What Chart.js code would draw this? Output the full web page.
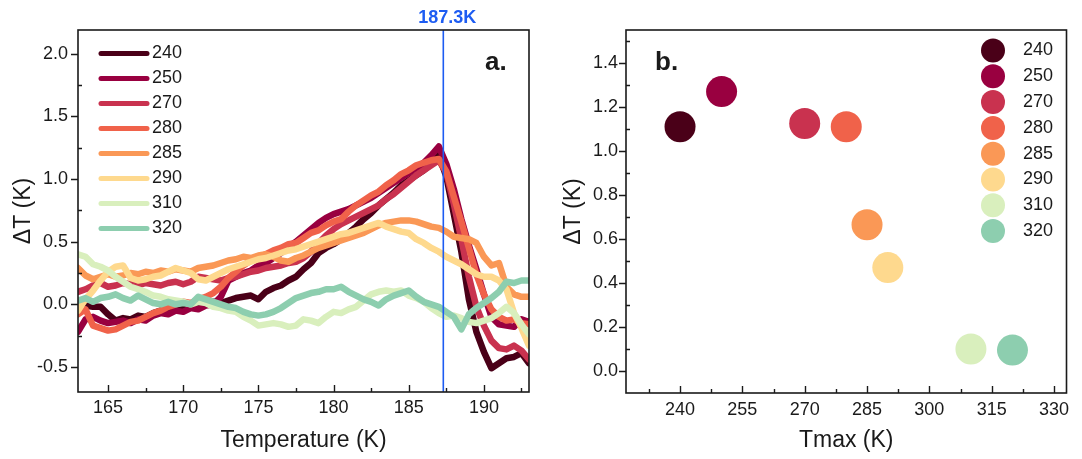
<!DOCTYPE html>
<html lang="en">
<head>
<meta charset="utf-8">
<title>ΔT vs Temperature / Tmax</title>
<script src="https://cdn.jsdelivr.net/npm/chart.js@4.4.1/dist/chart.umd.min.js"></script>
<style>
  html, body { margin: 0; padding: 0; background: #fff; }
  .wrap { position: relative; width: 1082px; height: 459px; }
  .panel { position: absolute; top: 0; width: 541px; height: 459px; }
  #panelA { left: 0; }
  #panelB { left: 541px; }
</style>
</head>
<body>
<div class="wrap">
  <div class="panel" id="panelA"><canvas id="chartA" width="541" height="459"></canvas></div>
  <div class="panel" id="panelB"><canvas id="chartB" width="541" height="459"></canvas></div>
</div>
<script>
// runs, labelled by Tmax (K)
const runLabels = ['240', '250', '270', '280', '285', '290', '310', '320'];
const runColors = ['#4a0018', '#990040', '#c9324f', '#f0624a', '#fa9856', '#fed98e', '#d9efbd', '#8dceaf'];

// temperature axis of the ΔT traces (K)
const temps = [163, 163.5, 164, 164.5, 165, 165.5, 166, 166.5, 167, 167.5,
  168, 168.5, 169, 169.5, 170, 170.5, 171, 171.5, 172, 172.5,
  173, 173.5, 174, 174.5, 175, 175.5, 176, 176.5, 177, 177.5,
  178, 178.5, 179, 179.5, 180, 180.5, 181, 181.5, 182, 182.5,
  183, 183.5, 184, 184.5, 185, 185.5, 186, 186.5, 187, 187.5,
  188, 188.5, 189, 189.5, 190, 190.5, 191, 191.5, 192, 192.5, 193];

// ΔT traces (K)
const dT240 = [-0.06, -0.01, -0.02, -0.02, -0.08, -0.13, -0.11, -0.12, -0.09, -0.10,
  -0.07, -0.05, -0.06, -0.03, -0.04, -0.01, -0.02, 0.01, 0.02, 0.01,
  0.03, 0.05, 0.06, 0.07, 0.04, 0.10, 0.13, 0.15, 0.19, 0.22,
  0.28, 0.33, 0.41, 0.45, 0.48, 0.52, 0.57, 0.62, 0.68, 0.73,
  0.79, 0.84, 0.89, 0.95, 0.99, 1.03, 1.07, 1.12, 1.19, 1.02,
  0.72, 0.42, 0.04, -0.22, -0.38, -0.51, -0.47, -0.43, -0.42, -0.39, -0.47];
const dT250 = [-0.22, -0.12, -0.10, -0.13, -0.15, -0.14, -0.13, -0.15, -0.12, -0.13,
  -0.09, -0.07, -0.08, -0.05, -0.06, -0.03, -0.04, -0.01, 0.00, 0.06,
  0.19, 0.22, 0.25, 0.27, 0.31, 0.33, 0.37, 0.41, 0.46, 0.50,
  0.55, 0.60, 0.65, 0.69, 0.72, 0.74, 0.76, 0.79, 0.82, 0.85,
  0.89, 0.93, 0.97, 1.01, 1.05, 1.09, 1.13, 1.19, 1.26, 1.12,
  0.92, 0.68, 0.47, 0.28, 0.08, -0.10, -0.16, -0.17, -0.18, -0.12, -0.14];
const dT270 = [0.10, 0.12, 0.15, 0.17, 0.14, 0.15, 0.17, 0.16, 0.15, 0.17,
  0.16, 0.15, 0.17, 0.18, 0.16, 0.18, 0.22, 0.21, 0.20, 0.19,
  0.21, 0.22, 0.24, 0.26, 0.27, 0.29, 0.30, 0.31, 0.33, 0.34,
  0.37, 0.42, 0.49, 0.55, 0.60, 0.64, 0.67, 0.70, 0.73, 0.76,
  0.79, 0.84, 0.88, 0.93, 0.98, 1.03, 1.07, 1.11, 1.15, 1.05,
  0.80, 0.52, 0.22, -0.02, -0.17, -0.29, -0.35, -0.36, -0.33, -0.37, -0.44];
const dT280 = [-0.08, -0.04, -0.17, -0.19, -0.21, -0.20, -0.17, -0.14, -0.13, -0.10,
  -0.07, -0.05, -0.02, 0.00, 0.02, 0.01, 0.04, 0.06, 0.09, 0.14,
  0.21, 0.26, 0.31, 0.35, 0.37, 0.40, 0.43, 0.45, 0.48, 0.49,
  0.53, 0.57, 0.59, 0.63, 0.66, 0.68, 0.74, 0.79, 0.83, 0.87,
  0.90, 0.95, 0.99, 1.04, 1.07, 1.11, 1.13, 1.15, 1.16, 1.06,
  0.86, 0.66, 0.45, 0.24, 0.08, -0.04, -0.10, -0.13, -0.12, -0.15, -0.16];
const dT285 = [0.29, 0.23, 0.20, 0.22, 0.24, 0.22, 0.23, 0.25, 0.24, 0.26,
  0.25, 0.27, 0.26, 0.28, 0.27, 0.26, 0.29, 0.30, 0.31, 0.33,
  0.35, 0.36, 0.38, 0.37, 0.39, 0.40, 0.38, 0.35, 0.34, 0.37,
  0.39, 0.42, 0.45, 0.47, 0.49, 0.51, 0.53, 0.55, 0.57, 0.60,
  0.63, 0.65, 0.66, 0.67, 0.67, 0.66, 0.64, 0.62, 0.61, 0.58,
  0.54, 0.53, 0.52, 0.49, 0.38, 0.31, 0.33, 0.14, 0.08, 0.06, 0.06];
const dT290 = [-0.05, 0.04, 0.11, 0.19, 0.26, 0.30, 0.31, 0.21, 0.19, 0.20,
  0.22, 0.23, 0.26, 0.29, 0.27, 0.25, 0.20, 0.19, 0.22, 0.25,
  0.28, 0.30, 0.32, 0.34, 0.36, 0.37, 0.39, 0.41, 0.43, 0.44,
  0.46, 0.48, 0.50, 0.52, 0.54, 0.56, 0.57, 0.59, 0.61, 0.63,
  0.65, 0.62, 0.60, 0.58, 0.57, 0.52, 0.49, 0.45, 0.42, 0.38,
  0.35, 0.32, 0.28, 0.24, 0.22, 0.22, 0.19, 0.12, -0.07, -0.19, -0.33];
const dT310 = [0.40, 0.38, 0.32, 0.30, 0.27, 0.22, 0.18, 0.14, 0.12, 0.10,
  0.07, 0.06, 0.04, 0.03, 0.02, 0.00, 0.02, 0.01, -0.02, -0.03,
  -0.05, -0.06, -0.10, -0.13, -0.17, -0.16, -0.15, -0.16, -0.18, -0.17,
  -0.12, -0.13, -0.15, -0.10, -0.06, -0.07, -0.04, -0.02, 0.03, 0.08,
  0.10, 0.11, 0.10, 0.11, 0.07, 0.05, 0.02, -0.03, -0.07, -0.10,
  -0.09, -0.11, -0.14, -0.15, -0.13, -0.11, -0.07, -0.02, -0.07, -0.16, -0.24];
const dT320 = [0.03, 0.05, 0.02, 0.05, 0.06, 0.08, 0.05, 0.03, 0.07, 0.04,
  0.01, 0.00, 0.02, 0.00, 0.01, 0.00, 0.06, 0.04, 0.02, 0.00,
  -0.02, -0.03, -0.06, -0.08, -0.09, -0.08, -0.06, -0.03, 0.01, 0.05,
  0.07, 0.09, 0.10, 0.12, 0.12, 0.14, 0.10, 0.07, 0.04, 0.02,
  -0.01, 0.04, 0.07, 0.09, 0.11, 0.06, 0.02, 0.00, -0.02, -0.06,
  -0.10, -0.20, -0.08, -0.03, 0.01, 0.05, 0.10, 0.18, 0.17, 0.19, 0.19];
const traces = [dT240, dT250, dT270, dT280, dT285, dT290, dT310, dT320];

// panel b: maximum ΔT for each Tmax
const tmax = [240, 250, 270, 280, 285, 290, 310, 320];
const peakDT = [1.11, 1.27, 1.125, 1.11, 0.665, 0.47, 0.10, 0.095];

// transition marker (K)
const markerTemp = 187.3;

// major tick values
const tempTicks = [165, 170, 175, 180, 185, 190];
const dTTicksA = [-0.5, 0.0, 0.5, 1.0, 1.5, 2.0];
const tmaxTicks = [240, 255, 270, 285, 300, 315, 330];
const dTTicksB = [0.0, 0.2, 0.4, 0.6, 0.8, 1.0, 1.2, 1.4];

const FONT = '"Liberation Sans", Arial, sans-serif';
const INK = '#1a1a1a';

function minorsOf(majors, min, max) {
  const step = majors[1] - majors[0];
  const out = [];
  for (let v = majors[0] - step / 2; v < max; v += step) {
    if (v > min) out.push(v);
  }
  return out;
}

// frame around the plot area plus Origin-style major/minor ticks
function frameAndTicks(xMajors, yMajors) {
  return {
    id: 'frameAndTicks',
    afterDraw(chart) {
      const {ctx, chartArea: a, scales: {x, y}} = chart;
      ctx.save();
      ctx.strokeStyle = INK;
      ctx.lineWidth = 1.6;
      ctx.strokeRect(a.left, a.top, a.right - a.left, a.bottom - a.top);
      ctx.lineWidth = 1.4;
      ctx.beginPath();
      for (const v of yMajors) {
        const py = Math.round(y.getPixelForValue(v)) + 0.5;
        ctx.moveTo(a.left - 7, py); ctx.lineTo(a.left, py);
      }
      for (const v of minorsOf(yMajors, y.min, y.max)) {
        const py = Math.round(y.getPixelForValue(v)) + 0.5;
        ctx.moveTo(a.left, py); ctx.lineTo(a.left + 4, py);
      }
      for (const v of xMajors) {
        const px = Math.round(x.getPixelForValue(v)) + 0.5;
        ctx.moveTo(px, a.bottom); ctx.lineTo(px, a.bottom - 7);
      }
      for (const v of minorsOf(xMajors, x.min, x.max)) {
        const px = Math.round(x.getPixelForValue(v)) + 0.5;
        ctx.moveTo(px, a.bottom); ctx.lineTo(px, a.bottom - 4);
      }
      ctx.stroke();
      ctx.restore();
    }
  };
}

function panelTag(text, px, py) {
  return {
    id: 'panelTag',
    afterDraw(chart) {
      const ctx = chart.ctx;
      ctx.save();
      ctx.fillStyle = INK;
      ctx.font = 'bold 26px ' + FONT;
      ctx.textBaseline = 'alphabetic';
      ctx.fillText(text, px, py);
      ctx.restore();
    }
  };
}

// vertical line at the transition temperature, with its label above the frame
const markerLine = {
  id: 'markerLine',
  afterDatasetsDraw(chart) {
    const {ctx, chartArea: a, scales: {x}} = chart;
    const px = x.getPixelForValue(markerTemp);
    ctx.save();
    ctx.strokeStyle = '#1d5cf2';
    ctx.lineWidth = 1.6;
    ctx.beginPath();
    ctx.moveTo(px, a.top);
    ctx.lineTo(px, a.bottom);
    ctx.stroke();
    ctx.fillStyle = '#1d5cf2';
    ctx.font = 'bold 18px ' + FONT;
    ctx.textAlign = 'center';
    ctx.textBaseline = 'middle';
    ctx.fillText(markerTemp.toFixed(1) + 'K', px + 4, 18);
    ctx.restore();
  }
};

// line-sample legend (panel a)
const lineLegend = {
  id: 'lineLegend',
  afterDraw(chart) {
    const ctx = chart.ctx;
    ctx.save();
    ctx.font = '18px ' + FONT;
    ctx.textBaseline = 'middle';
    runLabels.forEach((lab, i) => {
      const yy = 53.5 + i * 25;
      ctx.strokeStyle = runColors[i];
      ctx.lineWidth = 5;
      ctx.lineCap = 'round';
      ctx.beginPath();
      ctx.moveTo(101, yy);
      ctx.lineTo(147, yy);
      ctx.stroke();
      ctx.fillStyle = INK;
      ctx.fillText(lab, 152, yy);
    });
    ctx.restore();
  }
};

// marker legend (panel b)
const dotLegend = {
  id: 'dotLegend',
  afterDraw(chart) {
    const ctx = chart.ctx;
    ctx.save();
    ctx.font = '18px ' + FONT;
    ctx.textBaseline = 'middle';
    runLabels.forEach((lab, i) => {
      const yy = 50.5 + i * 25.8;
      ctx.fillStyle = runColors[i];
      ctx.beginPath();
      ctx.arc(452, yy, 12, 0, Math.PI * 2);
      ctx.fill();
      ctx.fillStyle = INK;
      ctx.fillText(lab, 482, yy);
    });
    ctx.restore();
  }
};

function axisTitle(text, pad) {
  return { display: true, text: text, color: INK, font: { family: FONT, size: 23 }, padding: pad };
}
function tickFont() {
  return { family: FONT, size: 18 };
}

// panel a: ΔT traces against temperature
new Chart(document.getElementById('chartA'), {
  type: 'line',
  data: {
    datasets: traces.map((arr, i) => ({
      label: runLabels[i],
      data: temps.map((t, k) => ({ x: t, y: arr[k] })),
      borderColor: runColors[i],
      borderWidth: 6.5,
      borderJoinStyle: 'round',
      borderCapStyle: 'round',
      pointRadius: 0,
      tension: 0,
      order: runLabels.length - i
    }))
  },
  options: {
    responsive: false,
    animation: false,
    events: [],
    layout: { padding: { left: 0, right: 12, top: 30, bottom: 0 } },
    plugins: { legend: { display: false }, tooltip: { enabled: false } },
    scales: {
      x: {
        type: 'linear', min: 163, max: 193,
        afterBuildTicks: s => { s.ticks = tempTicks.map(v => ({ value: v })); },
        afterFit: s => { s.height = 67; },
        grid: { display: false, drawTicks: false },
        border: { display: false },
        ticks: { color: INK, font: tickFont(), padding: 5, autoSkip: false, maxRotation: 0,
                 callback: v => String(v) },
        title: axisTitle('Temperature (K)', { bottom: 5 })
      },
      y: {
        type: 'linear', min: -0.7, max: 2.19,
        afterBuildTicks: s => { s.ticks = dTTicksA.map(v => ({ value: v })); },
        afterFit: s => { s.width = 78; },
        grid: { display: false, drawTicks: false },
        border: { display: false },
        ticks: { color: INK, font: tickFont(), padding: 10, autoSkip: false,
                 callback: v => v.toFixed(1) },
        title: axisTitle('ΔT (K)', { top: 10 })
      }
    }
  },
  plugins: [markerLine, frameAndTicks(tempTicks, dTTicksA), lineLegend, panelTag('a.', 485, 70)]
});

// panel b: peak ΔT against Tmax
new Chart(document.getElementById('chartB'), {
  type: 'scatter',
  data: {
    datasets: [{
      label: 'ΔT',
      data: tmax.map((t, i) => ({ x: t, y: peakDT[i] })),
      backgroundColor: runColors,
      borderWidth: 0,
      pointRadius: 15.5
    }]
  },
  options: {
    responsive: false,
    animation: false,
    events: [],
    layout: { padding: { left: 0, right: 5, top: 30, bottom: 0 } },
    plugins: { legend: { display: false }, tooltip: { enabled: false } },
    scales: {
      x: {
        type: 'linear', min: 227, max: 333,
        afterBuildTicks: s => { s.ticks = tmaxTicks.map(v => ({ value: v })); },
        afterFit: s => { s.height = 66; },
        grid: { display: false, drawTicks: false },
        border: { display: false },
        ticks: { color: INK, font: tickFont(), padding: 6, autoSkip: false, maxRotation: 0,
                 callback: v => String(v) },
        title: axisTitle('Tmax (K)', { bottom: 5 })
      },
      y: {
        type: 'linear', min: -0.1, max: 1.55,
        afterBuildTicks: s => { s.ticks = dTTicksB.map(v => ({ value: v })); },
        afterFit: s => { s.width = 85; },
        grid: { display: false, drawTicks: false },
        border: { display: false },
        ticks: { color: INK, font: tickFont(), padding: 8, autoSkip: false,
                 callback: v => v.toFixed(1) },
        title: axisTitle('ΔT (K)', { top: 19 })
      }
    }
  },
  plugins: [frameAndTicks(tmaxTicks, dTTicksB), dotLegend, panelTag('b.', 114, 70)]
});
</script>
</body>
</html>
